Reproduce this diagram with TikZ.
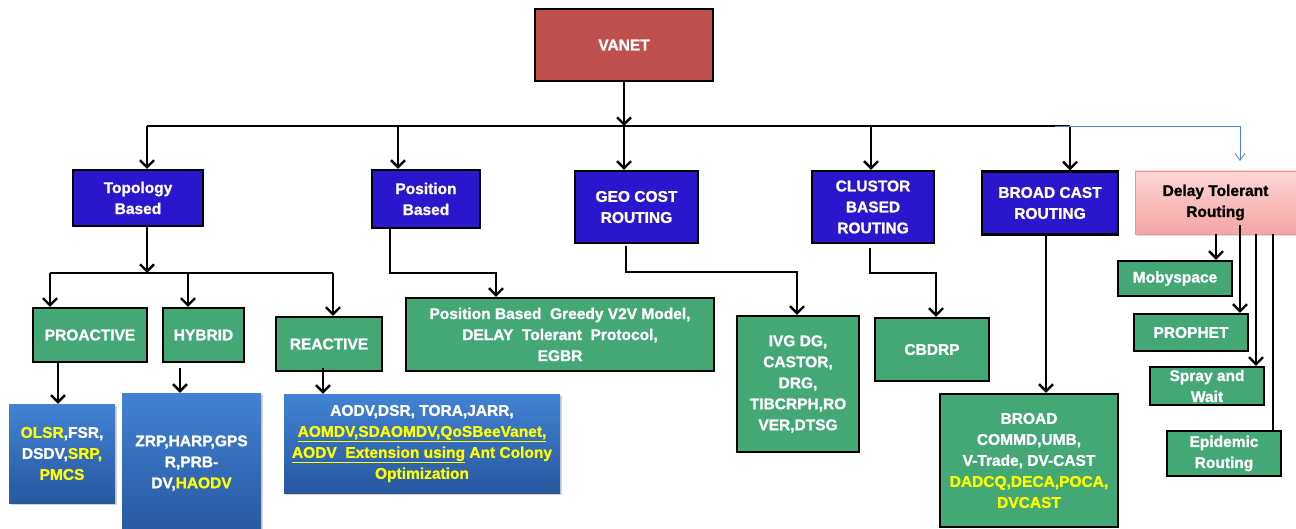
\documentclass[tikz,border=0pt]{standalone}
\usepackage{fontspec}
\setmainfont{Liberation Sans}[BoldFeatures={FakeBold=1.2}]
\usetikzlibrary{arrows.meta,shadows}
\definecolor{vanetred}{RGB}{192,80,77}
\definecolor{navy}{RGB}{42,22,204}
\definecolor{gbox}{RGB}{68,168,118}
\definecolor{ylw}{RGB}{255,255,0}
\definecolor{btop}{RGB}{66,130,212}
\definecolor{bbot}{RGB}{40,88,160}
\definecolor{ptop}{RGB}{255,214,214}
\definecolor{pbot}{RGB}{244,164,164}
\definecolor{pborder}{RGB}{230,150,150}
\definecolor{thinblue}{RGB}{80,130,200}
\newcommand{\yl}[1]{\textcolor{ylw}{#1}}
\tikzset{
  base/.style={rectangle, align=center, inner sep=0pt, font=\fontsize{15.5}{21}\selectfont\bfseries},
  redbox/.style={base, draw=black, line width=2.2pt, fill=vanetred, text=white},
  navybox/.style={base, draw=black, line width=2.2pt, fill=navy, text=white},
  greenbox/.style={base, draw=black, line width=2.2pt, fill=gbox, text=white},
  gradbox/.style={base, top color=btop, bottom color=bbot, text=white,
     drop shadow={opacity=0.35, shadow xshift=2pt, shadow yshift=-2pt}},
  pinkbox/.style={base, draw=pborder, line width=0.8pt, top color=ptop, bottom color=pbot, text=black,
     drop shadow={opacity=0.25, shadow xshift=2pt, shadow yshift=-2pt}},
  arr/.style={line width=2.4pt, -{Straight Barb[length=7pt,width=14pt]}},
  ln/.style={line width=2.4pt},
  bluearr/.style={thinblue, line width=0.8pt, -{Straight Barb[length=7pt,width=10pt]}},
}
\begin{document}
\begin{tikzpicture}[x=1pt,y=-1pt]
\useasboundingbox (0,0) rectangle (1296,529);
% level 0
\node[redbox, minimum width=178pt, minimum height=72pt] (vanet) at (624,45) {VANET};
% level 1
\node[navybox, minimum width=130pt, minimum height=56pt] (topo) at (138,198) {Topology\\Based};
\node[navybox, minimum width=108pt, minimum height=58pt] (pos) at (426,199) {Position\\Based};
\node[navybox, minimum width=123pt, minimum height=72pt] (geo) at (636.5,207) {GEO COST\\ROUTING};
\node[navybox, minimum width=122pt, minimum height=72pt] (clus) at (873,207) {CLUSTOR\\BASED\\ROUTING};
\node[navybox, minimum width=136pt, minimum height=63pt] (bcast) at (1050,203) {BROAD CAST\\ROUTING};
\node[pinkbox, minimum width=161pt, minimum height=63pt] (dtr) at (1215.5,202.5) {Delay Tolerant\\Routing};
% level 2
\node[greenbox, minimum width=114pt, minimum height=54pt] (proact) at (90,335) {PROACTIVE};
\node[greenbox, minimum width=81pt, minimum height=54pt] (hybrid) at (203.5,335) {HYBRID};
\node[greenbox, minimum width=106pt, minimum height=54pt] (react) at (329,344) {REACTIVE};
\node[greenbox, minimum width=308pt, minimum height=73pt] (posg) at (560,334.5) {Position Based\ \ Greedy V2V Model,\\DELAY\ \ Tolerant\ \ Protocol,\\EGBR};
\node[greenbox, minimum width=122pt, minimum height=136pt] (ivg) at (798,384) {IVG DG,\\CASTOR,\\DRG,\\TIBCRPH,RO\\VER,DTSG};
\node[greenbox, minimum width=114pt, minimum height=63pt] (cbdrp) at (932,349.5) {CBDRP};
\node[greenbox, minimum width=178pt, minimum height=133pt] (broad) at (1029,460.5) {BROAD\\COMMD,UMB,\\V-Trade, DV-CAST\\\yl{DADCQ,DECA,POCA,}\\\yl{DVCAST}};
\node[greenbox, minimum width=114pt, minimum height=35pt] (moby) at (1175,278.5) {Mobyspace};
\node[greenbox, minimum width=114pt, minimum height=37pt] (prophet) at (1191,332.5) {PROPHET};
\node[greenbox, minimum width=114pt, minimum height=38pt] (spray) at (1207,386) {Spray and\\Wait};
\node[greenbox, minimum width=114pt, minimum height=45pt] (epid) at (1224,453.5) {Epidemic\\Routing};
% level 3
\node[gradbox, minimum width=106pt, minimum height=99pt] (b1) at (62,453.5) {\yl{OLSR},FSR,\\DSDV,\yl{SRP,}\\\yl{PMCS}};
\node[gradbox, minimum width=139pt, minimum height=140pt] (b2) at (191.5,463) {ZRP,HARP,GPS\\R,PRB-\\DV,\yl{HAODV}};
\node[gradbox, minimum width=276pt, minimum height=99pt] (b3) at (422,443.5) {AODV,DSR, TORA,JARR,\\\yl{\underline{AOMDV,SDAOMDV,QoSBeeVanet,}}\\\yl{\underline{AODV\ \ Extension using} Ant Colony}\\\yl{Optimization}};
% main bus
\coordinate (busL) at (147,126);
\coordinate (busR) at (1070,126);
\coordinate (busV) at (624,126);
\draw[arr] (vanet.south) -- (busV);
\draw[ln] (busL) -- (busR);
\draw[arr] (busL) -- (busL |- topo.north);
\draw[arr] (398,126) -- (398,0 |- pos.north);
\draw[arr] (busV) -- (busV |- geo.north);
\draw[arr] (871,126) -- (871,0 |- clus.north);
\draw[arr] (busR) -- (busR |- bcast.north);
% thin blue connector to delay tolerant
\coordinate (bl1) at (1055,126);
\coordinate (bl2) at (1240,126);
\coordinate (bl3) at (1240,161);
\draw[bluearr] (bl1) -- (bl2) -- (bl3);
% topology subtree
\coordinate (tbus) at (147,273);
\draw[arr] (topo.south -| tbus) -- (tbus);
\draw[ln] (50,273) -- (333,273);
\draw[arr] (50,273) -- (50,0 |- proact.north);
\draw[arr] (188,273) -- (188,0 |- hybrid.north);
\draw[arr] (333,273) -- (333,0 |- react.north);
\draw[arr] (58,0 |- proact.south) -- (58,0 |- b1.north);
\draw[arr] (180,368) -- (180,0 |- b2.north);
\draw[arr] (323,368) -- (323,0 |- b3.north);
% position based
\draw[arr] (390,0 |- pos.south) -- (390,273) -- (496,273) -- (496,0 |- posg.north);
% geo cost
\draw[arr] (626,246) -- (626,272) -- (797,272) -- (797,0 |- ivg.north);
% cluster
\draw[arr] (870,248) -- (870,273) -- (936,273) -- (936,0 |- cbdrp.north);
% broadcast
\draw[arr] (1046,0 |- bcast.south) -- (1046,0 |- broad.north);
% delay tolerant
\draw[arr] (1216,0 |- dtr.south) -- (1216,0 |- moby.north);
\draw[arr] (1240,225) -- (1240,0 |- prophet.north);
\draw[arr] (1256,0 |- dtr.south) -- (1256,0 |- spray.north);
\draw[ln] (1273,0 |- dtr.south) -- (1273,0 |- epid.north);
\end{tikzpicture}
\end{document}
